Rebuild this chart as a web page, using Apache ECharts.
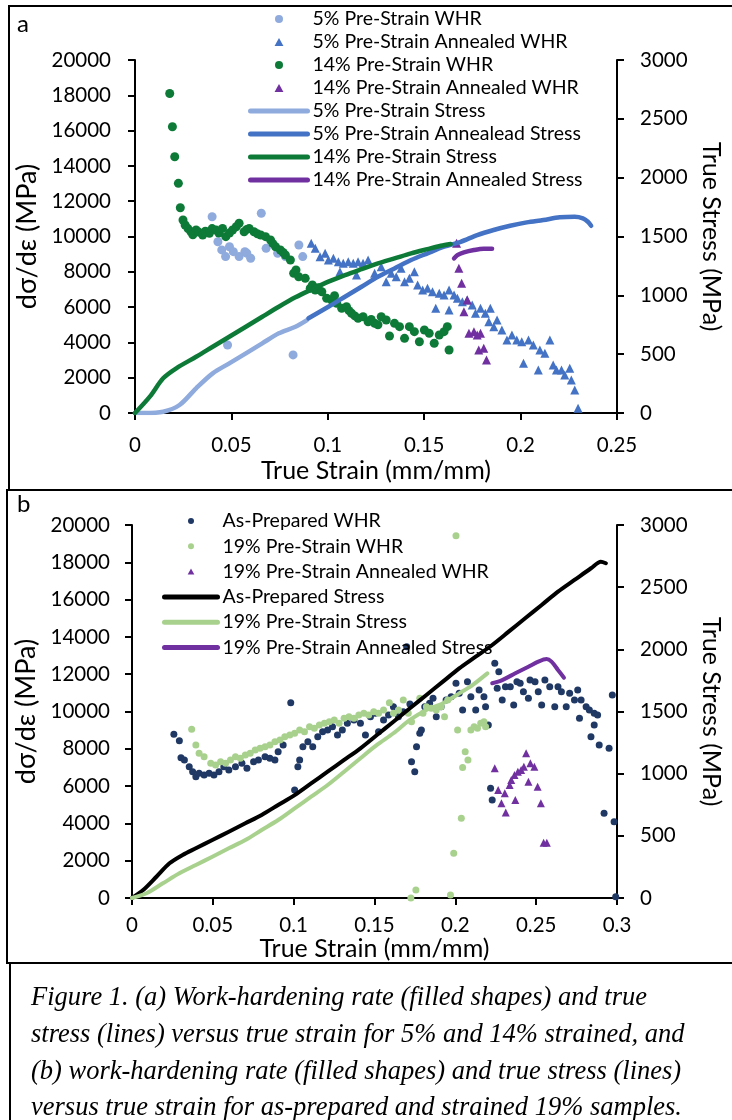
<!DOCTYPE html>
<html>
<head>
<meta charset="utf-8">
<script src="https://cdn.jsdelivr.net/npm/echarts@6/dist/echarts.min.js"></script>
<style>
html,body{margin:0;padding:0;background:#fff;}
#chart{width:732px;height:1120px;}
</style>
</head>
<body>
<div id="chart"></div>
<script>
// ---------------- Panel a data (strain, value) ----------------
const whr5 = [[0.040,11120],[0.043,9700],[0.045,9240],[0.047,8860],[0.049,9420],[0.051,9140],[0.054,8860],[0.057,9140],[0.058,9050],[0.060,8770],[0.0655,11320],[0.068,9330],[0.074,9050],[0.078,8860],[0.085,9520],[0.087,8860],[0.048,3850],[0.082,3290]];
const whr5Ann = [[0.0914,9615],[0.0935,9330],[0.096,8855],[0.0986,9050],[0.1003,8670],[0.1029,8765],[0.1055,8575],[0.108,8480],[0.1106,8575],[0.1132,8480],[0.1157,8575],[0.1183,8480],[0.1209,8670],[0.1063,8005],[0.1149,7820],[0.1243,7915],[0.1277,8290],[0.1303,7440],[0.1329,7915],[0.1355,7720],[0.138,8200],[0.1398,7440],[0.1423,7630],[0.1449,8005],[0.1466,7250],[0.1492,6970],[0.1517,7065],[0.1543,6870],[0.156,5930],[0.1578,6780],[0.1603,6685],[0.1629,6970],[0.1629,5835],[0.1655,6685],[0.1672,6500],[0.1698,6305],[0.1723,6400],[0.1749,6120],[0.1766,5650],[0.1792,5930],[0.1817,5650],[0.1843,5930],[0.1835,5170],[0.1861,4890],[0.1878,5270],[0.1903,4700],[0.1929,4135],[0.1955,4420],[0.198,4135],[0.2006,4040],[0.2015,2815],[0.2041,4135],[0.2066,3850],[0.2092,2435],[0.21,3570],[0.2126,3380],[0.2152,4135],[0.2169,2720],[0.2186,2435],[0.2212,2435],[0.2229,2150],[0.2255,2530],[0.2263,1870],[0.2281,1300],[0.2298,265]];
const whr14 = [[0.0180,18100],[0.0194,16220],[0.0206,14520],[0.0225,13010],[0.0235,11630],[0.0249,10935],[0.0260,10650],[0.0275,10450],[0.0290,10270],[0.0300,10100],[0.0317,10370],[0.0330,10250],[0.0351,10085],[0.0365,10300],[0.0386,10180],[0.0400,10450],[0.0420,10370],[0.0435,10200],[0.0454,10460],[0.0471,9990],[0.0490,10200],[0.0506,10370],[0.0525,10550],[0.0540,10750],[0.0566,10270],[0.0580,10400],[0.0592,10460],[0.0617,10270],[0.0635,10150],[0.0652,10085],[0.0677,9990],[0.0703,9800],[0.0715,9600],[0.0729,9420],[0.0754,9235],[0.0768,9100],[0.0780,8950],[0.0806,8670],[0.0823,7915],[0.0835,8100],[0.0849,7720],[0.0883,7630],[0.0909,7065],[0.0920,7250],[0.0935,6970],[0.0950,7100],[0.0969,6870],[0.0994,6500],[0.1020,6400],[0.1035,6650],[0.1046,6215],[0.1072,5930],[0.1097,6020],[0.1110,5800],[0.1123,5650],[0.1140,5500],[0.1157,5365],[0.1183,5455],[0.1209,5170],[0.1225,5300],[0.1243,5080],[0.1260,5000],[0.1277,5455],[0.1303,5270],[0.1320,4360],[0.1346,5080],[0.1372,4890],[0.1398,4230],[0.1423,4890],[0.1449,4610],[0.1475,4040],[0.1501,4700],[0.1526,4515],[0.1552,3950],[0.1578,4420],[0.1603,4610],[0.1620,4890],[0.1629,3570]];
const whr14Ann = [[0.1668,9615],[0.168,8200],[0.1694,7350],[0.1706,5740],[0.1723,6400],[0.1732,4515],[0.1758,4610],[0.1775,4420],[0.1792,4515],[0.1783,3570],[0.1809,3665],[0.1823,3000]];
const stress5 = [[0,0],[0.005,0],[0.0146,11],[0.0231,68],[0.0317,210],[0.0403,337],[0.0489,422],[0.0575,507],[0.066,592],[0.0746,677],[0.0832,733],[0.0892,790]];
const stress5Ann = [[0.090,805],[0.1003,903],[0.1089,988],[0.1175,1073],[0.126,1158],[0.1346,1229],[0.1432,1300],[0.1517,1357],[0.1603,1413],[0.1689,1455],[0.1775,1512],[0.186,1555],[0.1946,1591],[0.2032,1620],[0.2118,1640],[0.2203,1663],[0.2281,1668],[0.2323,1654],[0.2349,1625],[0.2366,1591]];
const stress14 = [[0,0],[0.0077,139],[0.0146,295],[0.0214,380],[0.0317,478],[0.0403,563],[0.0489,648],[0.0575,733],[0.066,818],[0.0746,903],[0.0832,983],[0.0917,1051],[0.1003,1116],[0.1089,1172],[0.1175,1223],[0.126,1272],[0.1346,1314],[0.1432,1357],[0.1517,1393],[0.1586,1421],[0.1637,1436]];
const stress14Ann = [[0.1655,1314],[0.1672,1342],[0.1706,1365],[0.1758,1385],[0.1809,1396],[0.1852,1396]];

// ---------------- Panel b data ----------------
const whrAsPrep = [[0.0259,8775],[0.0293,8435],[0.0303,7525],[0.0324,7400],[0.0354,7040],[0.0375,6770],[0.0395,6505],[0.0415,6685],[0.0446,6595],[0.0477,6685],[0.0507,6595],[0.0538,6770],[0.0568,7040],[0.0599,6865],[0.064,7040],[0.068,7220],[0.0711,6955],[0.0752,7310],[0.0782,7400],[0.0823,7575],[0.0853,7490],[0.0884,7400],[0.0904,7845],[0.0935,8205],[0.0982,10470],[0.1006,5790],[0.1026,7040],[0.1037,7400],[0.1057,8115],[0.1088,8380],[0.1118,8115],[0.1149,8650],[0.1179,8920],[0.121,9010],[0.124,9185],[0.1271,8740],[0.1301,9010],[0.1332,9365],[0.1373,9545],[0.1413,9365],[0.1444,8740],[0.1475,9720],[0.1505,9905],[0.1525,8920],[0.1556,9545],[0.1587,9810],[0.1617,10260],[0.1648,9720],[0.1678,9990],[0.1699,13475],[0.1719,10400],[0.1729,7310],[0.1749,6770],[0.176,8115],[0.178,8830],[0.179,9010],[0.1811,10260],[0.1841,10440],[0.1862,10710],[0.1882,9720],[0.1912,10260],[0.1943,10620],[0.1974,10795],[0.2004,11510],[0.2024,10975],[0.2045,10080],[0.2075,11600],[0.2096,10795],[0.2126,10080],[0.2147,11150],[0.2177,10795],[0.2187,10260],[0.2204,9275],[0.2218,5880],[0.2228,5255],[0.2244,12585],[0.2269,12135],[0.2259,11245],[0.229,10620],[0.231,11330],[0.234,11330],[0.2361,10350],[0.2381,11600],[0.2401,11510],[0.2421,11060],[0.2452,10710],[0.2462,11690],[0.2493,11600],[0.2513,11060],[0.2534,10350],[0.2554,11690],[0.2584,11330],[0.2615,10260],[0.2635,11330],[0.2656,11060],[0.2686,10260],[0.2707,10975],[0.2737,10620],[0.2757,11150],[0.2768,9635],[0.2778,10620],[0.2809,10260],[0.2829,10080],[0.2839,8650],[0.2859,9905],[0.2859,9275],[0.288,9810],[0.289,8205],[0.292,4540],[0.2951,8025],[0.2971,10885],[0.2982,4090],[0.2992,70]];
const whr19 = [[0.0369,9045],[0.0395,8205],[0.0415,7760],[0.0446,7575],[0.0487,7220],[0.0517,7130],[0.0548,7310],[0.0579,7220],[0.0609,7400],[0.064,7575],[0.067,7490],[0.0701,7665],[0.0731,7760],[0.0762,7935],[0.0792,8025],[0.0823,8115],[0.0853,8205],[0.0884,8380],[0.0915,8470],[0.0945,8650],[0.0976,8740],[0.1006,8830],[0.1037,9010],[0.1067,8920],[0.1098,9185],[0.1128,9100],[0.1159,9275],[0.119,9365],[0.122,9455],[0.1251,9545],[0.1281,9365],[0.1312,9635],[0.1342,9720],[0.1373,9635],[0.1403,9810],[0.1434,9905],[0.1464,9810],[0.1495,9990],[0.1525,9905],[0.1556,10080],[0.1592,10470],[0.1617,9905],[0.1648,10080],[0.1678,10620],[0.1709,9905],[0.1729,9455],[0.1725,0],[0.1756,430],[0.178,10710],[0.18,9905],[0.1821,10260],[0.1851,10170],[0.1882,10080],[0.1912,10260],[0.1933,9720],[0.1953,10620],[0.197,160],[0.199,2400],[0.2004,19425],[0.2014,9010],[0.2037,4275],[0.2045,7000],[0.2061,7845],[0.2078,7400],[0.2096,9010],[0.2116,9185],[0.2137,9100],[0.2157,9365],[0.2177,9455],[0.2187,9185]];
const whr19Ann = [[0.2244,6955],[0.2265,5790],[0.2285,5075],[0.2312,4590],[0.2306,5610],[0.2336,6060],[0.2346,6325],[0.2366,6595],[0.2371,5255],[0.2387,6770],[0.2407,6865],[0.2424,7040],[0.2438,7760],[0.2452,6235],[0.2464,7220],[0.2489,7040],[0.2509,5970],[0.2529,5075],[0.2546,2965],[0.2566,2965]];
const stressAsPrep = [[0,0],[0.0069,64],[0.0151,171],[0.0232,279],[0.0313,346],[0.0395,400],[0.0497,466],[0.0599,533],[0.0701,601],[0.0802,668],[0.0904,748],[0.1006,828],[0.1108,922],[0.121,1016],[0.1312,1110],[0.1413,1204],[0.1515,1311],[0.1617,1418],[0.1719,1526],[0.1821,1633],[0.1923,1740],[0.2024,1847],[0.2126,1941],[0.2228,2035],[0.233,2142],[0.2432,2250],[0.2534,2357],[0.2635,2464],[0.2737,2558],[0.2839,2652],[0.29,2705],[0.2931,2692]];
const stress19 = [[0,0],[0.009,38],[0.0191,118],[0.0293,199],[0.0395,265],[0.0497,332],[0.0599,400],[0.0701,466],[0.0802,547],[0.0904,627],[0.1006,721],[0.1108,815],[0.121,909],[0.1312,1016],[0.1413,1124],[0.1515,1231],[0.1617,1325],[0.1719,1432],[0.1821,1512],[0.1923,1566],[0.2024,1646],[0.2106,1713],[0.2198,1807]];
const stress19Ann = [[0.2228,1727],[0.229,1753],[0.2371,1807],[0.2452,1860],[0.2513,1901],[0.2564,1922],[0.2595,1901],[0.2635,1834],[0.2672,1772]];

// ---------------- labels ----------------
const namesA = ['5% Pre-Strain WHR','5% Pre-Strain Annealed WHR','14% Pre-Strain WHR','14% Pre-Strain Annealed WHR','5% Pre-Strain Stress','5% Pre-Strain Annealead Stress','14% Pre-Strain Stress','14% Pre-Strain Annealed Stress'];
const namesB = ['As-Prepared WHR','19% Pre-Strain WHR','19% Pre-Strain Annealed WHR','As-Prepared Stress','19% Pre-Strain Stress','19% Pre-Strain Annealed Stress'];
const captionLines = [
 'Figure 1. (a) Work-hardening rate (filled shapes) and true',
 'stress (lines) versus true strain for 5% and 14% strained, and',
 '(b) work-hardening rate (filled shapes) and true stress (lines)',
 'versus true strain for as-prepared and strained 19% samples.'
];

const C = {
  lb:'#8FAADC', bl:'#4472C4', gr:'#0E7A38', pu:'#7030A0',
  nv:'#1F3864', lg:'#A9D18E', bk:'#000000'
};
const FONT = 'Lato';
const TRI = 'path://M5,0 L10,9 L0,9 Z';
const TICK_FS = 20.5, NAME_FS = 25;

function plain(v){ return String(+v.toFixed(4)); }
function xAx(grid, max, margin, gap){
  return {gridIndex:grid, type:'value', min:0, max:max, interval:0.05,
    name:'True Strain (mm/mm)', nameLocation:'middle', nameGap:gap,
    nameTextStyle:{fontFamily:FONT, fontSize:NAME_FS, color:'#000'},
    axisLine:{onZero:false, lineStyle:{color:'#000', width:2}},
    axisTick:{inside:false, length:7, lineStyle:{color:'#000', width:2}},
    axisLabel:{fontFamily:FONT, fontSize:TICK_FS, color:'#000', margin:margin, formatter:plain},
    splitLine:{show:false}};
}
function yL(grid, margin){
  return {gridIndex:grid, type:'value', min:0, max:20000, interval:2000, position:'left',
    name:'dσ/dε (MPa)', nameLocation:'middle', nameGap:92,
    nameTextStyle:{fontFamily:FONT, fontSize:27, color:'#000'},
    axisLine:{show:true, lineStyle:{color:'#000', width:2}},
    axisTick:{show:true, length:7, lineStyle:{color:'#000', width:2}},
    axisLabel:{fontFamily:FONT, fontSize:TICK_FS, color:'#000', margin:margin, formatter:plain},
    splitLine:{show:false}};
}
function yR(grid, margin){
  return {gridIndex:grid, type:'value', min:0, max:3000, interval:500, position:'right',
    name:'True Stress (MPa)', nameLocation:'middle', nameGap:82, nameRotate:-90,
    nameTextStyle:{fontFamily:FONT, fontSize:NAME_FS, color:'#000'},
    axisLine:{show:true, lineStyle:{color:'#000', width:2}},
    axisTick:{show:true, length:7, lineStyle:{color:'#000', width:2}},
    axisLabel:{fontFamily:FONT, fontSize:TICK_FS, color:'#000', margin:margin, formatter:plain},
    splitLine:{show:false}};
}
function sc(name, data, xi, yi, color, symbol, size){
  return {name:name, type:'scatter', xAxisIndex:xi, yAxisIndex:yi, data:data,
    symbol:symbol, symbolSize:size, itemStyle:{color:color, opacity:1}, z:2};
}
function ln(name, data, xi, yi, color, w){
  return {name:name, type:'line', xAxisIndex:xi, yAxisIndex:yi, data:data,
    symbol:'none', smooth:0.3, lineStyle:{color:color, width:w, cap:'round', join:'round'},
    itemStyle:{color:color}, z:3};
}
function legItems(names, kinds){
  return names.map((n,i)=>{
    if (kinds[i]==='line') return {name:n, itemStyle:{opacity:0}, lineStyle:{width:5, cap:'round'}};
    if (kinds[i]==='tri') return {name:n, icon:TRI};
    return {name:n, icon:'circle'};
  });
}

const chart = echarts.init(document.getElementById('chart'), null, {renderer:'canvas'});
const textBase = {fontFamily:FONT, fontSize:19.5, color:'#000', lineHeight:18};
chart.setOption({
  animation:false,
  backgroundColor:'#fff',
  grid:[
    {left:135, top:60, width:486, height:353},
    {left:132, top:525, width:491, height:373}
  ],
  xAxis:[ xAx(0, 0.25, 22, 45), xAx(1, 0.3, 17, 37) ],
  yAxis:[ yL(0, 24), yR(0, 23), yL(1, 22), yR(1, 23) ],
  legend:[
    {orient:'vertical', left:248, top:9, padding:0, itemWidth:57, itemHeight:8, itemGap:3,
     textStyle:textBase, selectedMode:false,
     data:legItems(namesA, ['c','tri','c','tri','line','line','line','line'])},
    {orient:'vertical', left:162, top:511, padding:0, itemWidth:53, itemHeight:6, itemGap:5.3,
     textStyle:textBase, selectedMode:false,
     data:legItems(namesB, ['c','c','tri','line','line','line'])}
  ],
  series:[
    sc(namesA[0], whr5, 0, 0, C.lb, 'circle', 9),
    sc(namesA[1], whr5Ann, 0, 0, C.bl, 'triangle', 9),
    sc(namesA[2], whr14, 0, 0, C.gr, 'circle', 9),
    sc(namesA[3], whr14Ann, 0, 0, C.pu, 'triangle', 9),
    ln(namesA[4], stress5, 0, 1, C.lb, 4.5),
    ln(namesA[5], stress5Ann, 0, 1, C.bl, 4.5),
    ln(namesA[6], stress14, 0, 1, C.gr, 4.5),
    ln(namesA[7], stress14Ann, 0, 1, C.pu, 4.5),
    sc(namesB[0], whrAsPrep, 1, 2, C.nv, 'circle', 7),
    sc(namesB[1], whr19, 1, 2, C.lg, 'circle', 7),
    sc(namesB[2], whr19Ann, 1, 2, C.pu, 'triangle', 8),
    ln(namesB[3], stressAsPrep, 1, 3, C.bk, 4),
    ln(namesB[4], stress19, 1, 3, C.lg, 4),
    ln(namesB[5], stress19Ann, 1, 3, C.pu, 4)
  ],
  graphic:[
    {type:'rect', shape:{x:9, y:6, width:740, height:484}, style:{fill:'none', stroke:'#000', lineWidth:2}, z:-1},
    {type:'rect', shape:{x:7, y:490, width:740, height:473}, style:{fill:'none', stroke:'#000', lineWidth:2}, z:-1},
    {type:'rect', shape:{x:10, y:963, width:740, height:200}, style:{fill:'none', stroke:'#000', lineWidth:2}, z:-1},
    {type:'text', left:17, top:12, style:{text:'a', fontFamily:FONT, fontSize:24, fill:'#000'}},
    {type:'text', left:17, top:492, style:{text:'b', fontFamily:FONT, fontSize:24, fill:'#000'}},
    {type:'group', left:31, top:985, children: captionLines.map((t,i)=>({
      type:'text', x:0, y:i*36.6,
      style:{text:t, fontFamily:'Liberation Serif', fontStyle:'italic', fontSize:26.5, fill:'#000'}
    }))}
  ]
});
</script>
</body>
</html>
